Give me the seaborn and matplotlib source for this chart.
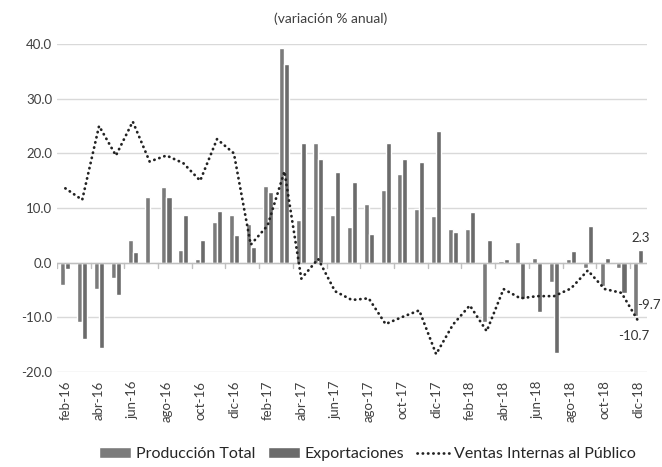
import numpy as np
import pandas as pd
import matplotlib
matplotlib.use("Agg")
import matplotlib.pyplot as plt
from matplotlib.patches import Patch
from matplotlib.lines import Line2D
import seaborn as sns

# Datos (variación % anual)
meses = ['feb-16', 'mar-16', 'abr-16', 'may-16', 'jun-16', 'jul-16', 'ago-16', 'sep-16',
         'oct-16', 'nov-16', 'dic-16', 'ene-17', 'feb-17', 'mar-17', 'abr-17', 'may-17',
         'jun-17', 'jul-17', 'ago-17', 'sep-17', 'oct-17', 'nov-17', 'dic-17', 'ene-18',
         'feb-18', 'mar-18', 'abr-18', 'may-18', 'jun-18', 'jul-18', 'ago-18', 'sep-18',
         'oct-18', 'nov-18', 'dic-18']

produccion = [-4.0, -10.8, -4.8, -2.8, 4.1, 12.1, 13.8, 2.4, 0.7, 7.5, 8.8, 7.0,
              14.1, 39.2, 7.8, 21.8, 8.7, 6.6, 10.8, 13.3, 16.3, 9.8, 8.6, 6.1,
              6.1, -10.8, 0.3, 3.8, 0.8, -3.6, 0.6, -1.0, -4.3, -1.0, -9.7]

exportaciones = [-1.1, -14.0, -15.5, -5.8, 1.9, -0.3, 12.1, 8.8, 4.1, 9.5, 5.1, 2.8,
                 13.0, 36.3, 21.9, 19.0, 16.5, 14.8, 5.3, 21.8, 19.0, 18.5, 24.0, 5.6,
                 9.3, 4.1, 0.6, -6.7, -9.0, -16.4, 2.1, 6.8, 0.8, -5.5, 2.3]

ventas = [13.6, 11.5, 25.0, 19.6, 25.8, 18.5, 19.6, 18.2, 15.0, 22.6, 20.0, 3.3,
          6.8, 16.7, -2.9, 0.7, -5.2, -6.8, -6.5, -11.2, -9.9, -8.7, -16.7, -11.3,
          -7.8, -12.5, -4.8, -6.5, -6.1, -6.1, -4.7, -1.4, -4.8, -5.5, -10.7]

series = ['Producción Total', 'Exportaciones']
colores = ['#7b7b7b', '#6b6b6b']

sns.set_style('white')
plt.rcParams['font.family'] = ['Lato', 'DejaVu Sans']

# tabla larga para las barras
df_barras = pd.DataFrame({
    'mes': meses * 2,
    'serie': [series[0]] * len(meses) + [series[1]] * len(meses),
    'valor': produccion + exportaciones,
})
df_linea = pd.DataFrame({'pos': np.arange(len(meses)), 'valor': ventas})

fig = plt.figure(figsize=(6.62, 4.67), dpi=100)
ax = fig.add_axes([0.086, 0.203, 0.891, 0.703])

sns.barplot(data=df_barras, x='mes', y='valor', hue='serie', order=meses,
            hue_order=series, palette=colores, width=0.6, saturation=1,
            legend=False, ax=ax)
sns.lineplot(data=df_linea, x='pos', y='valor', color='#222222', linewidth=2.0,
             ax=ax, legend=False)
ax.lines[-1].set_dashes((0.1, 1.8))
ax.lines[-1].set_dash_capstyle('round')

n = len(meses)
ax.set_xlim(-0.5, n - 0.5)
ax.set_ylim(-20, 40)
ax.set_yticks(np.arange(-20, 41, 10))
ax.set_yticklabels([f'{v:.1f}' for v in np.arange(-20, 41, 10)], fontsize=9.5, color='#404040')
ax.set_xticks(np.arange(0, n, 2))
ax.set_xticklabels(meses[::2], rotation=90, fontsize=9.5, color='#404040')
ax.tick_params(axis='both', length=0)
ax.tick_params(axis='x', pad=6)
ax.set_xlabel('')
ax.set_ylabel('')
for s in ax.spines.values():
    s.set_visible(False)
ax.yaxis.grid(True, color='#d9d9d9', linewidth=1)
ax.set_axisbelow(True)

# eje en cero con marcas cada dos meses
ax.axhline(0, color='#bfbfbf', linewidth=1, zorder=1)
for xb in np.arange(-0.5, n, 2):
    ax.plot([xb, xb], [0, -0.9], color='#bfbfbf', linewidth=1, zorder=1)

# etiquetas del último dato
ult = n - 1
ax.text(ult + 0.15, exportaciones[-1] + 1.2, '2.3', ha='center', va='bottom', fontsize=9.5, color='#333333')
ax.text(ult - 0.1, produccion[-1] + 2.0, '-9.7', ha='left', va='center', fontsize=9.5, color='#333333')
ax.text(ult - 0.3, ventas[-1] - 1.6, '-10.7', ha='center', va='top', fontsize=9.5, color='#333333')

fig.text(0.5, 0.96, '(variación % anual)', ha='center', va='center', fontsize=10, color='#404040')

handles = [Patch(facecolor=colores[0]), Patch(facecolor=colores[1]),
           Line2D([0], [0], color='#222222', linewidth=2.0, dashes=(0.1, 1.8),
                  dash_capstyle='round')]
fig.legend(handles, series + ['Ventas Internas al Público'], loc='center',
           bbox_to_anchor=(0.555, 0.027), ncol=3, frameon=False, fontsize=11.5,
           handlelength=2.0, handletextpad=0.3, columnspacing=0.8)

plt.savefig('out.png', dpi=100)
